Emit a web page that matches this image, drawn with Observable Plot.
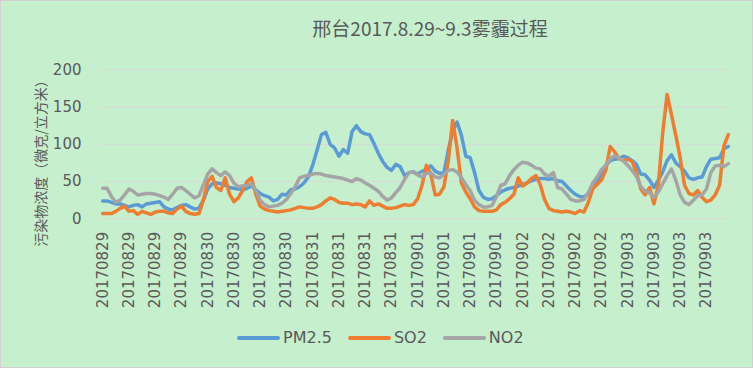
<!DOCTYPE html>
<html><head><meta charset="utf-8">
<script src="https://cdn.jsdelivr.net/npm/d3@7"></script>
<script src="https://cdn.jsdelivr.net/npm/@observablehq/plot@0.6"></script>
<style>
html,body{margin:0;padding:0;background:#fff;}
#chart{position:relative;width:753px;height:368px;background:#C6EFCE;box-shadow:inset 0 0 0 1px #D0D0D0;overflow:hidden;font-family:"DejaVu Sans",sans-serif;color:#595959;}
#title{position:absolute;top:18px;left:430px;transform:translateX(-50%);white-space:nowrap;font-family:"Noto Sans CJK SC",sans-serif;font-size:19px;line-height:1;color:#595959;}
#ylabel{position:absolute;left:40px;top:160px;transform:translate(-50%,-50%) rotate(-90deg);white-space:nowrap;font-family:"Noto Sans CJK SC",sans-serif;font-size:14px;line-height:1;color:#595959;}
#plot{position:absolute;left:0;top:0;}
#legend{position:absolute;top:330px;left:237px;display:flex;align-items:center;font-size:16px;line-height:1;color:#595959;}
.item{display:flex;align-items:center;margin-right:16px;}
.sw{width:43px;height:3.5px;border-radius:2px;margin-right:3px;}
</style></head>
<body>
<div id="chart">
  <div id="title"></div>
  <div id="ylabel"></div>
  <div id="plot"></div>
  <div id="legend"></div>
</div>
<script>
const titleText = "邢台2017.8.29~9.3雾霾过程";
const yLabelText = "污染物浓度（微克/立方米）";
const days = ["20170829","20170830","20170831","20170901","20170902","20170903"];
const hoursPerDay = 24;
const labelStep = 6;
const yTicks = [0, 50, 100, 150, 200];
const seriesNames = ["PM2.5", "SO2", "NO2"];
const seriesColors = ["#5B9BD5", "#ED7D31", "#A5A5A5"];

const pm25 = [
  24,24,22,20,20,18,16,18,19,16,
  20,21,22,23,16,13,12,15,18,19,
  16,13,14,25,40,47,48,47,45,42,
  41,40,39,41,44,39,34,31,29,24,
  26,33,32,39,40,43,48,56,72,92,
  113,116,100,95,84,93,88,117,125,117,
  114,113,101,88,77,69,65,73,70,58,
  62,63,60,64,66,71,64,61,62,92,
  118,130,112,84,82,62,38,29,26,27,
  31,36,39,41,42,44,46,48,51,53,
  54,54,53,54,51,50,44,38,33,30,
  29,34,44,50,58,72,78,80,81,84,
  82,78,73,60,59,52,42,52,63,78,
  86,75,70,64,55,53,55,56,70,80,
  81,82,94,97
];
const so2 = [
  7,7,7,10,14,17,10,11,6,10,
  8,6,9,10,10,8,7,13,17,10,
  7,6,7,25,50,57,42,38,55,33,
  23,28,38,50,55,33,17,13,11,10,
  9,10,11,12,14,16,15,14,14,16,
  19,24,28,26,22,21,21,19,20,19,
  16,24,18,20,17,14,14,15,17,19,
  18,19,27,45,72,60,32,33,43,78,
  132,95,48,36,27,16,11,10,10,10,
  12,19,22,27,33,55,44,48,54,58,
  46,26,14,11,10,9,10,9,7,11,
  9,22,40,46,52,65,97,90,81,78,
  80,77,62,40,32,42,20,45,115,167,
  140,112,82,45,34,32,38,29,23,25,
  32,45,98,113
];
const no2 = [
  41,41,30,22,25,32,40,37,32,33,
  34,34,33,31,29,26,33,41,42,38,
  33,28,31,45,60,67,62,58,63,58,
  48,43,44,45,47,38,25,19,16,17,
  18,21,26,34,43,55,57,58,60,61,
  60,58,57,56,55,54,52,50,54,52,
  48,45,41,37,30,25,28,35,42,53,
  62,63,59,56,61,62,56,55,60,65,
  66,63,55,46,38,25,19,16,16,18,
  30,45,47,58,66,72,76,75,72,68,
  67,60,57,62,42,40,33,26,24,24,
  26,35,48,56,66,72,80,85,82,78,
  72,65,57,43,37,35,29,36,47,58,
  67,52,32,22,19,25,31,32,40,62,
  71,72,70,74
];

const categories = days.flatMap(d => Array(hoursPerDay).fill(d));
const seriesValues = [pm25, so2, no2];
const data = seriesValues.flatMap((vals, s) => vals.map((v, i) => ({i, v, series: seriesNames[s]})));

document.getElementById("title").textContent = titleText;
document.getElementById("ylabel").textContent = yLabelText;

const plot = Plot.plot({
  width: 753,
  height: 322,
  marginLeft: 100,
  marginRight: 23,
  marginTop: 69.3,
  marginBottom: 103.7,
  style: {background: "transparent", fontFamily: "DejaVu Sans", fontSize: "15px", color: "#595959", overflow: "visible"},
  x: {domain: [-0.5, categories.length - 0.5], axis: null, label: null},
  y: {domain: [0, 200], axis: null, label: null},
  color: {domain: seriesNames, range: seriesColors},
  marks: [
    Plot.gridY(yTicks, {stroke: "#D9D9D9", strokeOpacity: 1, strokeWidth: 1}),
    Plot.axisY(yTicks, {label: null, tickSize: 0, tickPadding: 19, fill: "#595959", fontSize: 15}),
    Plot.axisX(d3.range(0, categories.length, labelStep), {
      label: null, tickSize: 0, tickPadding: 13, tickRotate: -90, fill: "#595959", fontSize: 15,
      tickFormat: i => categories[i]
    }),
    Plot.line(data, {x: "i", y: "v", z: "series", stroke: "series", strokeWidth: 3.5, strokeLinejoin: "round", strokeLinecap: "round"})
  ]
});
document.getElementById("plot").appendChild(plot);

const legend = document.getElementById("legend");
seriesNames.forEach((name, k) => {
  const item = document.createElement("div");
  item.className = "item";
  const sw = document.createElement("div");
  sw.className = "sw";
  sw.style.background = seriesColors[k];
  const t = document.createElement("span");
  t.textContent = name;
  item.appendChild(sw);
  item.appendChild(t);
  legend.appendChild(item);
});
</script>
</body></html>
